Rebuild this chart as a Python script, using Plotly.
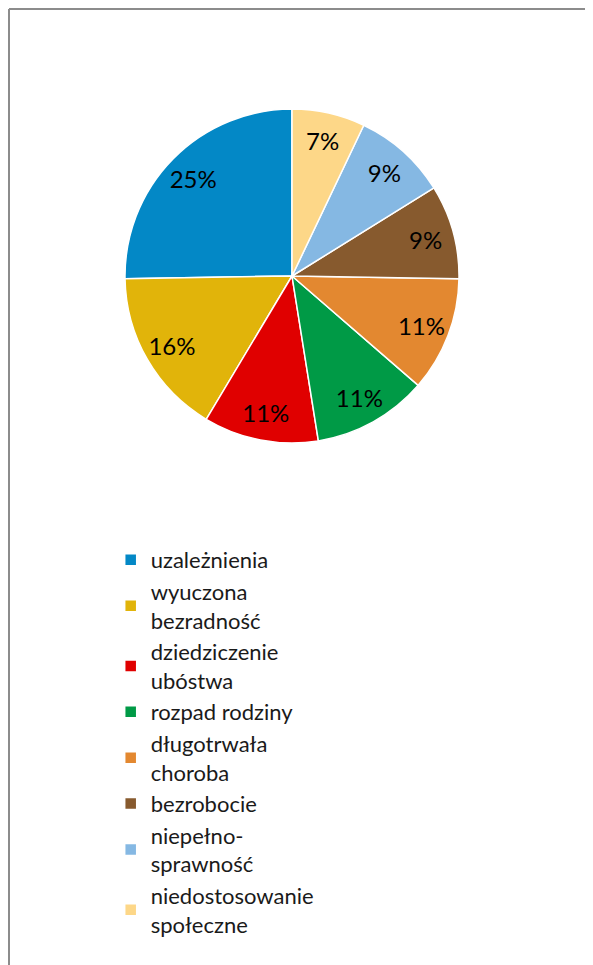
import plotly.graph_objects as go

# Przyczyny ubóstwa - udział procentowy
labels = ['uzależnienia', 'wyuczona<br>bezradność', 'dziedziczenie<br>ubóstwa',
          'rozpad rodziny', 'długotrwała<br>choroba', 'bezrobocie',
          'niepełno-<br>sprawność', 'niedostosowanie<br>społeczne']
values = [25, 16, 11, 11, 11, 9, 9, 7]
colors = ['#0388C6', '#E1B40A', '#E00000', '#009A46',
          '#E38830', '#875A2E', '#85B8E3', '#FDD788']

# strona ma 8px marginesu, więc figura jest o tyle mniejsza
W, H = 585, 957
FONT = 'Lato'

# pierwszy wycinek ma iść od godz. 12 w lewo
rot = -360 * values[0] / sum(values)

cx, cy, r = 284, 268, 167
dom = dict(x=[(cx - r) / W, (cx + r) / W], y=[1 - (cy + r) / H, 1 - (cy - r) / H])

fig = go.Figure()
fig.add_trace(go.Pie(
    labels=labels,
    values=values,
    sort=False,
    direction='counterclockwise',
    rotation=rot,
    marker=dict(colors=colors, line=dict(color='white', width=1.5)),
    textinfo='none',
    domain=dom,
    hoverinfo='label+percent',
))
# przezroczysty pierścień tylko dla etykiet procentowych (bliżej krawędzi jak w Excelu)
fig.add_trace(go.Pie(
    labels=labels,
    values=values,
    sort=False,
    direction='counterclockwise',
    rotation=rot,
    hole=0.66,
    marker=dict(colors=['rgba(0,0,0,0)'] * len(values), line=dict(width=0)),
    texttemplate='%{percent:.0%}',
    textposition='inside',
    insidetextorientation='horizontal',
    textfont=dict(family=FONT, size=24, color='black'),
    domain=dom,
    showlegend=False,
    hoverinfo='skip',
))

fig.update_layout(
    width=W, height=H,
    margin=dict(l=0, r=0, t=0, b=0),
    paper_bgcolor='white',
    font=dict(family=FONT, size=22, color='#1a1a1a'),
    legend=dict(
        x=102.7 / W, y=1 - 531 / H, xanchor='left', yanchor='top',
        font=dict(family=FONT, size=22, color='#1a1a1a'),
        traceorder='normal',
        itemclick=False,
    ),
    shapes=[
        # ramka wykresu (góra i lewa krawędź)
        dict(type='line', xref='paper', yref='paper', x0=1 / W, x1=1, y0=1 - 1 / H, y1=1 - 1 / H,
             line=dict(color='#8c8c8c', width=2)),
        dict(type='line', xref='paper', yref='paper', x0=1 / W, x1=1 / W, y0=0, y1=1 - 1 / H,
             line=dict(color='#8c8c8c', width=2)),
    ],
)

fig.write_html("out.html")
